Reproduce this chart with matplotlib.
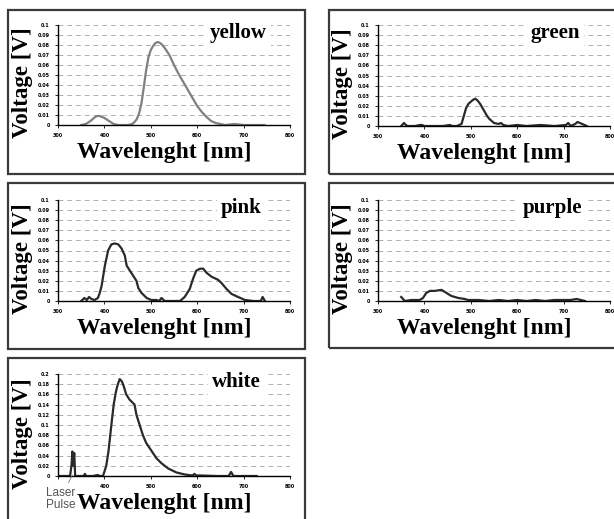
import matplotlib
matplotlib.use('Agg')
import matplotlib.pyplot as plt
from matplotlib.patches import Rectangle

# ---- data (wavelength nm, voltage V) ----
yellow_wl = [350, 360, 370, 380, 385, 390, 400, 410, 420, 430, 440, 450, 460, 465, 470, 475, 480,
             485, 490, 495, 500, 505, 510, 515, 520, 525, 530, 540, 550, 560, 570, 580, 590, 600,
             610, 620, 630, 640, 650, 660, 680, 700, 720, 745]
yellow_v = [0, 0.001, 0.004, 0.008, 0.009, 0.009, 0.007, 0.004, 0.001, 0, 0, 0, 0.001, 0.003,
            0.006, 0.012, 0.022, 0.038, 0.055, 0.068, 0.075, 0.079, 0.082, 0.083, 0.082, 0.080,
            0.077, 0.070, 0.060, 0.051, 0.043, 0.035, 0.027, 0.019, 0.013, 0.008, 0.004, 0.002,
            0.001, 0, 0.001, 0, 0, 0]

green_wl = [350, 356, 360, 364, 380, 390, 395, 400, 420, 440, 455, 460, 470, 480, 485, 490, 495,
            500, 505, 510, 515, 520, 525, 530, 535, 540, 545, 550, 560, 565, 570, 580, 600, 620,
            650, 680, 705, 710, 715, 725, 730, 735, 740, 750]
green_v = [0, 0.003, 0.001, 0, 0, 0.001, 0.001, 0, 0, 0, 0.001, 0, 0, 0.002, 0.010, 0.018, 0.022,
           0.024, 0.026, 0.027, 0.025, 0.022, 0.018, 0.014, 0.010, 0.007, 0.005, 0.003, 0.002,
           0.003, 0.001, 0, 0.001, 0, 0.001, 0, 0.001, 0.003, 0, 0.002, 0.004, 0.003, 0.002, 0]

pink_wl = [350, 357, 362, 367, 372, 379, 386, 390, 394, 401, 408, 415, 422, 430, 437, 444, 448,
           455, 462, 469, 473, 480, 491, 501, 512, 518, 523, 530, 563, 573, 584, 591, 598, 606,
           613, 620, 631, 645, 652, 663, 674, 688, 703, 721, 737, 741, 746]
pink_v = [0, 0.003, 0.001, 0.004, 0.002, 0.001, 0.003, 0.008, 0.015, 0.035, 0.050, 0.056, 0.057,
          0.056, 0.052, 0.045, 0.035, 0.030, 0.025, 0.020, 0.013, 0.008, 0.003, 0.001, 0.001,
          0.0, 0.003, 0, 0, 0.004, 0.012, 0.022, 0.030, 0.032, 0.032, 0.028, 0.024, 0.021,
          0.018, 0.012, 0.007, 0.004, 0.001, 0, 0, 0.004, 0]

purple_wl = [350, 358, 372, 390, 397, 404, 412, 422, 437, 444, 458, 473, 487, 494, 516, 540,
             560, 580, 600, 620, 640, 660, 680, 700, 715, 728, 746]
purple_v = [0.004, 0, 0.001, 0.001, 0.003, 0.008, 0.010, 0.010, 0.011, 0.009, 0.005, 0.003,
            0.002, 0.001, 0.001, 0, 0.001, 0, 0.001, 0, 0.001, 0, 0.001, 0.001, 0.001, 0.002, 0]

white_wl = [300, 326, 329, 331, 333, 335, 337, 345, 355, 358, 361, 375, 386, 390, 397, 404, 409,
            415, 420, 425, 429, 433, 438, 442, 447, 454, 465, 469, 476, 483, 490, 501, 512, 523,
            537, 555, 573, 590, 594, 598, 608, 644, 668, 673, 678, 700, 728]
white_v = [0, 0, 0.02, 0.048, 0.02, 0.045, 0, 0, 0, 0.004, 0, 0, 0.002, 0, 0, 0.02, 0.05, 0.10,
           0.14, 0.166, 0.18, 0.19, 0.185, 0.175, 0.16, 0.15, 0.14, 0.12, 0.10, 0.08, 0.065,
           0.05, 0.035, 0.025, 0.015, 0.007, 0.003, 0.001, 0.004, 0.001, 0.001, 0, 0, 0.008, 0,
           0, 0]

x_ticks = [300, 400, 500, 600, 700, 800]
y_ticks_small = [0, 0.01, 0.02, 0.03, 0.04, 0.05, 0.06, 0.07, 0.08, 0.09, 0.1]
y_labels_small = ['0', '0.01', '0.02', '0.03', '0.04', '0.05', '0.06', '0.07', '0.08', '0.09', '0.1']
y_ticks_white = [0, 0.02, 0.04, 0.06, 0.08, 0.1, 0.12, 0.14, 0.16, 0.18, 0.2]
y_labels_white = ['0', '0.02', '0.04', '0.06', '0.08', '0.1', '0.12', '0.14', '0.16', '0.18', '0.2']

W, H = 614, 519
fig = plt.figure(figsize=(W / 100, H / 100), dpi=100)

# panel frames (pixels: x0, y0 top, x1, y1 bottom)
for x0, y0, x1, y1 in [(8, 10, 305, 174), (329, 10, 620, 174), (8, 183, 305, 349),
                       (329, 183, 620, 348), (8, 358, 305, 530)]:
    fig.patches.append(Rectangle((x0 / W, 1 - y1 / H), (x1 - x0) / W, (y1 - y0) / H,
                                 transform=fig.transFigure, fill=False,
                                 edgecolor='#3a3a3a', lw=1.6))

serif = 'Liberation Serif'


def panel(px, wl, v, name, color, yt, yl, tx, xl=None):
    x0, y0, x1, y1 = px
    ax = fig.add_axes([x0 / W, 1 - y1 / H, (x1 - x0) / W, (y1 - y0) / H])
    ax.plot(wl, v, color=color, lw=1.6)
    ax.set_xlim(300, 800)
    ax.set_ylim(yt[0], yt[-1])
    ax.set_xticks(x_ticks)
    ax.set_xticklabels(xl or [str(t) for t in x_ticks], fontsize=3.5, fontweight='bold')
    ax.set_yticks(yt)
    ax.set_yticklabels(yl, fontsize=3.5, fontweight='bold')
    ax.tick_params(length=2, width=0.6, pad=4)
    for s in ['top', 'right']:
        ax.spines[s].set_visible(False)
    for s in ['left', 'bottom']:
        ax.spines[s].set_linewidth(1.0)
    for t in yt[1:]:
        ax.axhline(t, color='#b0b0b0', lw=0.7, ls=(0, (5, 4)), zorder=0)
    ax.set_xlabel('Wavelenght [nm]', family=serif, fontweight='bold', fontsize=17, va='top')
    ax.xaxis.set_label_coords(0.457, -0.17)
    ax.set_ylabel('Voltage [V]', family=serif, fontweight='bold', fontsize=16.5, va='center')
    ax.yaxis.set_label_coords(-0.152, 0.42)
    ax.text(tx, 0.92, name, transform=ax.transAxes, family=serif, fontweight='bold',
            fontsize=15, ha='center', va='center',
            bbox=dict(facecolor='white', edgecolor='none', pad=3))
    return ax


panel((58, 25, 290, 125), yellow_wl, yellow_v, 'yellow', '#808080', y_ticks_small, y_labels_small, 0.776)
panel((378, 25, 610, 126), green_wl, green_v, 'green', '#2a2a2a', y_ticks_small, y_labels_small, 0.763)
panel((58, 200, 290, 301), pink_wl, pink_v, 'pink', '#2a2a2a', y_ticks_small, y_labels_small, 0.79)
panel((378, 200, 610, 301), purple_wl, purple_v, 'purple', '#2a2a2a', y_ticks_small, y_labels_small, 0.75)
# the "300" label of the white panel is hidden under the "Laser Pulse" note
axw = panel((58, 374, 290, 476), white_wl, white_v, 'white', '#2a2a2a', y_ticks_white, y_labels_white,
            0.77, xl=[''] + [str(t) for t in x_ticks[1:]])

axw.annotate('Laser\nPulse', xy=(331, 0.002), xytext=(305, -0.045),
             textcoords='data', annotation_clip=False, fontsize=8.5, color='#555555',
             family='Liberation Sans', ha='center', va='center', linespacing=1.05,
             arrowprops=dict(arrowstyle='-', color='#777777', lw=0.6, shrinkA=1, shrinkB=0))

fig.savefig('out.png', dpi=100)
